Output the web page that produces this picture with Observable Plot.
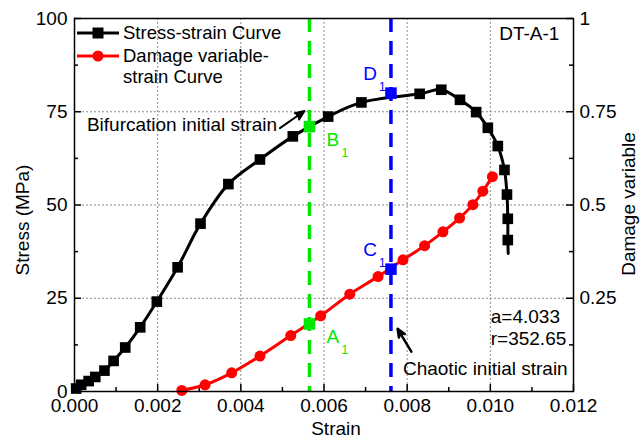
<!DOCTYPE html>
<html><head><meta charset="utf-8">
<script src="https://cdn.jsdelivr.net/npm/d3@7"></script>
<script src="https://cdn.jsdelivr.net/npm/@observablehq/plot@0.6"></script>
<style>
body{margin:0;background:#fff}
#chart{position:relative;width:643px;height:443px}
</style>
</head><body><div id="chart"></div>
<script>
// ---- data ----
const stressStrain = [
  [0.00004,0.8],[0.00016,1.8],[0.00034,2.8],[0.0005,3.9],[0.00072,5.6],[0.00094,8.2],
  [0.00122,11.8],[0.00158,17.2],[0.00198,24.1],[0.00248,33.3],[0.00303,45.0],[0.0037,55.6],
  [0.00446,62.2],[0.00525,68.4],[0.0061,73.7],[0.0069,77.5],[0.0083,79.8],[0.00882,80.9],
  [0.00927,78.2],[0.00966,74.9],[0.00994,70.7],[0.01018,65.8],[0.01034,59.4],[0.0104,52.8],
  [0.01042,46.3],[0.01042,40.6]
];
const stressTail = [[0.01042,40.6],[0.01043,37.0]];
const damageStrain = [
  [0.00258,0.003],[0.00314,0.018],[0.00378,0.05],[0.00446,0.095],[0.0052,0.15],[0.00592,0.203],
  [0.00662,0.261],[0.0073,0.308],[0.0079,0.353],[0.00842,0.391],[0.00886,0.428],[0.00926,0.465],
  [0.00958,0.501],[0.00982,0.537],[0.01005,0.576]
];
const keyNames = ["B","D","A","C"];
const keyStrain = [0.00565,0.00761,0.00565,0.00761];
const keyValue = [71.0,80.0,0.181,0.328];
const keyAxis = ["stress","stress","damage","damage"];
const keyColor = ["#00e800","#0000ff","#00e800","#0000ff"];
const criticalStrain = [0.00565,0.00761];
const criticalColor = ["#00e800","#0000ff"];

const xTicks = [0,0.002,0.004,0.006,0.008,0.010,0.012];
const xMinor = [0.001,0.003,0.005,0.007,0.009,0.011];
const xGrid = [0.002,0.004,0.006,0.008,0.010];
const yTicks = [0,25,50,75,100];
const yMinor = [12.5,37.5,62.5,87.5];
const yGrid = [25,50,75];
const rightTicks = [0.25,0.5,0.75,1];
const rightTickLabels = ["0.25","0.5","0.75","1"];
const rightMinor = [0.125,0.375,0.625,0.875];

const seriesNames = ["Stress-strain Curve","Damage variable-","strain Curve"];
const panelName = "DT-A-1";
const fitText = ["a=4.033","r=352.65"];
const fitTextPos = [[0.01001,20.0],[0.01001,14.0]];
const bifText = "Bifurcation initial strain";
const bifTextPos = [0.00487,71.6];
const bifArrow = [0.00494,70.6,0.00553,75.2];
const chaText = "Chaotic initial strain";
const chaTextPos = [0.01186,6.0];
const chaArrow = [0.0081,10.7,0.00777,16.8];
const panelPos = [0.01166,96.0];

// ---- helpers ----
const toLeft = v => v * 100;   // damage variable (0–1) onto the shared 0–100 frame
const keyPts = keyNames.map((n,i)=>({
  name:n, x:keyStrain[i],
  y: keyAxis[i]==="stress" ? keyValue[i] : toLeft(keyValue[i]),
  color:keyColor[i]
}));
const ffam = "'Liberation Sans', Arial, sans-serif";
const labelTop = keyPts.filter(d=>d.name==="D"||d.name==="C");
const labelBot = keyPts.filter(d=>d.name==="B"||d.name==="A");

const W=643, H=443, mL=74, mR=70, mT=18, mB=52;
const fw = W-mL-mR, fh = H-mT-mB;
const tickMajor = 7, tickMin = 4;
const tickStyle = {stroke:"#000", strokeWidth:1.5};

const plot = Plot.plot({
  width:W, height:H,
  marginLeft:mL, marginRight:mR, marginTop:mT, marginBottom:mB,
  style:{fontFamily:ffam, fontSize:"19px", color:"#000", background:"#fff", overflow:"visible"},
  x:{domain:[0,0.012]},
  y:{domain:[0,100]},
  marks:[
    Plot.gridX(xGrid,{stroke:"#8a8a8a", strokeOpacity:1, strokeWidth:1, strokeDasharray:"2,2"}),
    Plot.gridY(yGrid,{stroke:"#8a8a8a", strokeOpacity:1, strokeWidth:1, strokeDasharray:"2,2"}),
    // inward ticks
    Plot.tickX(xTicks,{x:d=>d, insetTop:fh-tickMajor, ...tickStyle}),
    Plot.tickX(xMinor,{x:d=>d, insetTop:fh-tickMin, ...tickStyle}),
    Plot.tickY(yTicks,{y:d=>d, insetRight:fw-tickMajor, ...tickStyle}),
    Plot.tickY(yMinor,{y:d=>d, insetRight:fw-tickMin, ...tickStyle}),
    Plot.tickY(rightTicks.map(toLeft),{y:d=>d, insetLeft:fw-tickMajor, ...tickStyle}),
    Plot.tickY(rightMinor.map(toLeft),{y:d=>d, insetLeft:fw-tickMin, ...tickStyle}),
    // tick labels
    Plot.axisX(xTicks,{tickSize:0, tickPadding:7, tickFormat:d3.format(".3f"), label:null, fontSize:19}),
    Plot.axisY(yTicks,{anchor:"left", tickSize:0, tickPadding:7, label:null, fontSize:19}),
    Plot.axisY(rightTicks.map(toLeft),{anchor:"right", tickSize:0, tickPadding:6, label:null, fontSize:19,
      tickFormat:d=>rightTickLabels[rightTicks.findIndex(t=>Math.abs(toLeft(t)-d)<1e-6)]}),
    Plot.ruleX(criticalStrain,{stroke:(d,i)=>criticalColor[i], strokeWidth:3.5, strokeDasharray:"14,9"}),
    Plot.line(damageStrain,{x:d=>d[0], y:d=>toLeft(d[1]), stroke:"#ff0000", strokeWidth:3, curve:"catmull-rom"}),
    Plot.dot(damageStrain,{x:d=>d[0], y:d=>toLeft(d[1]), fill:"#ff0000", r:5.5}),
    Plot.line(stressStrain,{x:d=>d[0], y:d=>d[1], stroke:"#000", strokeWidth:3, curve:"catmull-rom"}),
    Plot.line(stressTail,{x:d=>d[0], y:d=>d[1], stroke:"#000", strokeWidth:3}),
    Plot.dot(stressStrain,{x:d=>d[0], y:d=>d[1], symbol:"square", fill:"#000", r:6}),
    Plot.dot(keyPts,{x:"x", y:"y", symbol:"square", fill:"color", r:6.5}),
    Plot.text(labelBot,{x:"x", y:"y", text:"name", fill:"color", textAnchor:"start", dx:17, dy:13, fontSize:19}),
    Plot.text(labelBot,{x:"x", y:"y", text:()=>"1", fill:"color", textAnchor:"start", dx:32, dy:26, fontSize:12}),
    Plot.text(labelTop,{x:"x", y:"y", text:"name", fill:"color", textAnchor:"end", dx:-14, dy:-19, fontSize:19}),
    Plot.text(labelTop,{x:"x", y:"y", text:()=>"1", fill:"color", textAnchor:"start", dx:-12, dy:-6, fontSize:12}),
    Plot.text([bifText],{x:()=>bifTextPos[0], y:()=>bifTextPos[1], text:d=>d, textAnchor:"end", fontSize:19, fill:"#000"}),
    Plot.text([chaText],{x:()=>chaTextPos[0], y:()=>chaTextPos[1], text:d=>d, textAnchor:"end", fontSize:19, fill:"#000"}),
    Plot.text(fitText,{x:(d,i)=>fitTextPos[i][0], y:(d,i)=>fitTextPos[i][1], text:d=>d, textAnchor:"start", fontSize:19, fill:"#000"}),
    Plot.text([panelName],{x:()=>panelPos[0], y:()=>panelPos[1], text:d=>d, textAnchor:"end", fontSize:19, fill:"#000"}),
    Plot.arrow([bifArrow],{x1:d=>d[0], y1:d=>d[1], x2:d=>d[2], y2:d=>d[3], stroke:"#000", fill:"#000", strokeWidth:2, headLength:10, headAngle:45}),
    Plot.arrow([chaArrow],{x1:d=>d[0], y1:d=>d[1], x2:d=>d[2], y2:d=>d[3], stroke:"#000", fill:"#000", strokeWidth:2.5, headLength:10, headAngle:45}),
    Plot.text(["Strain"],{frameAnchor:"bottom", textAnchor:"middle", dy:43, dx:12, text:d=>d, fontSize:19, fill:"#000"}),
    Plot.text(["Stress (MPa)"],{frameAnchor:"left", textAnchor:"middle", dx:-52, dy:15, rotate:-90, text:d=>d, fontSize:19, fill:"#000"}),
    Plot.text(["Damage variable"],{frameAnchor:"right", textAnchor:"middle", dx:55, dy:-1, rotate:-90, text:d=>d, fontSize:19, fill:"#000"}),
    Plot.frame({stroke:"#000", strokeWidth:1.5})
  ]
});
document.getElementById("chart").appendChild(plot);

// ---- legend (inside the frame, top-left) ----
const svg = d3.select(plot);
const lg = svg.append("g").attr("font-family", ffam).attr("font-size", 18.5)
  .attr("fill", "#000").attr("text-anchor","start");
const rows = [{y:33, color:"#000", sym:"square"},{y:56, color:"#ff0000", sym:"circle"}];
rows.forEach(r=>{
  lg.append("line").attr("x1",77).attr("x2",119).attr("y1",r.y).attr("y2",r.y).attr("stroke",r.color).attr("stroke-width",3);
  if (r.sym==="square") lg.append("rect").attr("x",92.5).attr("y",r.y-5.5).attr("width",11).attr("height",11).attr("fill",r.color);
  else lg.append("circle").attr("cx",98).attr("cy",r.y).attr("r",5.5).attr("fill",r.color);
});
[[33,0],[56,1],[77,2]].forEach(([y,i])=>{
  lg.append("text").attr("x",123).attr("y",y).attr("dy","0.35em").attr("text-anchor","start").text(seriesNames[i]);
});
</script>
</body></html>
